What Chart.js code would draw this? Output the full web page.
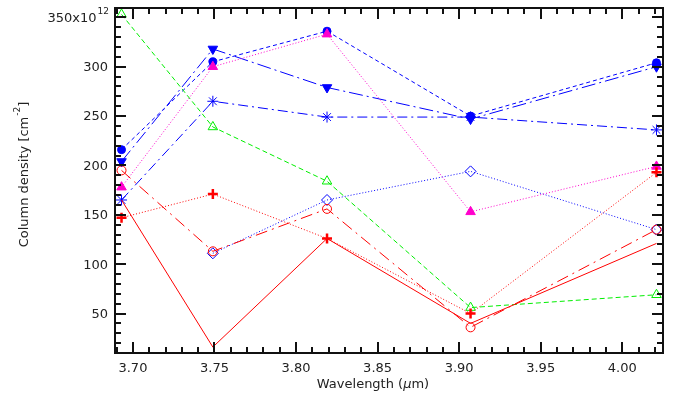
<!DOCTYPE html>
<html>
<head>
<meta charset="utf-8">
<script src="https://cdn.jsdelivr.net/npm/chart.js@4.4.0/dist/chart.umd.min.js"></script>
<style>
html,body{margin:0;padding:0;background:#fff}
#wrap{width:692px;height:401px}
</style>
</head>
<body>
<div id="wrap"><canvas id="myChart" width="692" height="401"></canvas></div>
<script>
// wavelengths (um) and column densities (x10^12 cm^-2)
const wavelengths = [3.693, 3.749, 3.819, 3.907, 4.021];
const blueCircles = [216, 305, 336, 250, 304];
const blueDownTriangles = [204, 318, 279, 247, 300];
const blueStars = [165, 265, 249, 249, 236];
const blueDiamonds = [null, 111, 165, 194, 135];
const magentaTriangles = [178, 300, 333, 153, 199];
const greenTriangles = [353, 239, 184, 56, 69];
const redCircles = [195, 113, 156, 36, 135];
const redPluses = [147, 171, 126, 50, 193];
const redSolid = [165, 16, 126, 40, 121];

const xTicks = [3.70, 3.75, 3.80, 3.85, 3.90, 3.95, 4.00];
const xTickLabels = ['3.70', '3.75', '3.80', '3.85', '3.90', '3.95', '4.00'];
const yTicks = [50, 100, 150, 200, 250, 300, 350];
const yTickLabels = ['50', '100', '150', '200', '250', '300', '350x10'];

const FONT = '"DejaVu Sans", sans-serif';

function pts(vals){
    return wavelengths.map((x, i) => ({x: x, y: vals[i]})).filter(p => p.y !== null);
}

function series(vals, color, style, dash, extra){
    return Object.assign({
        data: pts(vals),
        borderColor: color,
        backgroundColor: color,
        borderWidth: 1,
        borderDash: dash,
        pointStyle: style,
        pointRadius: 4.5,
        pointBorderWidth: 1,
        pointBorderColor: color,
        pointBackgroundColor: color,
        tension: 0
    }, extra || {});
}

// frame with inward ticks on all four sides, plus labels and titles
const frame = {
    id: 'frame',
    afterDraw(chart){
        const c = chart.ctx, a = chart.chartArea;
        const x = chart.scales.x, y = chart.scales.y;
        const L = Math.round(a.left), R = Math.round(a.right);
        const T = Math.round(a.top), B = Math.round(a.bottom);
        c.save();
        c.fillStyle = '#111';
        for (let i = 369; i <= 402; i++){
            const px = Math.round(x.getPixelForValue(i / 100));
            const len = (i % 5 === 0) ? 11 : 6;
            c.fillRect(px - 1, B - len, 2, len);
            c.fillRect(px - 1, T, 2, len);
        }
        for (let v = 10; v <= 360; v += 10){
            const py = Math.round(y.getPixelForValue(v));
            const len = (v % 50 === 0) ? 11 : 6;
            c.fillRect(L, py - 1, len, 2);
            c.fillRect(R - len, py - 1, len, 2);
        }
        c.fillRect(L - 1, T - 1, R - L + 2, 2);
        c.fillRect(L - 1, B - 1, R - L + 2, 2);
        c.fillRect(L - 1, T - 1, 2, B - T + 2);
        c.fillRect(R - 1, T - 1, 2, B - T + 2);

        c.fillStyle = '#222';
        c.font = '13px ' + FONT;
        // x tick labels
        c.textAlign = 'center';
        c.textBaseline = 'top';
        xTicks.forEach((v, i) => {
            c.fillText(xTickLabels[i], x.getPixelForValue(v), B + 9);
        });
        // y tick labels
        c.textAlign = 'right';
        c.textBaseline = 'middle';
        yTicks.forEach((v, i) => {
            const py = y.getPixelForValue(v) + 1;
            if (i === yTicks.length - 1){
                c.font = '9px ' + FONT;
                const w = c.measureText('12').width;
                c.fillText('12', L - 6, py - 7);
                c.font = '13px ' + FONT;
                c.fillText(yTickLabels[i], L - 7 - w, py);
            } else {
                c.fillText(yTickLabels[i], L - 7, py);
            }
        });
        // x title
        const p1 = 'Wavelength (', p3 = 'm)';
        c.font = '13px ' + FONT;
        const w1 = c.measureText(p1).width, w3 = c.measureText(p3).width;
        c.font = 'italic 13px ' + FONT;
        const w2 = c.measureText('\u03bc').width;
        const sx = 373 - (w1 + w2 + w3) / 2;
        c.textAlign = 'left';
        c.font = '13px ' + FONT;
        c.fillText(p1, sx, 385);
        c.font = 'italic 13px ' + FONT;
        c.fillText('\u03bc', sx + w1, 385);
        c.font = '13px ' + FONT;
        c.fillText(p3, sx + w1 + w2, 385);
        // y title
        c.translate(25, 175);
        c.rotate(-Math.PI / 2);
        const t1 = 'Column density [cm', t3 = ']';
        const a1 = c.measureText(t1).width, a3 = c.measureText(t3).width;
        c.font = '9px ' + FONT;
        const a2 = c.measureText('-2').width;
        const sy = -(a1 + a2 + a3) / 2;
        c.font = '13px ' + FONT;
        c.fillText(t1, sy, 0);
        c.fillText(t3, sy + a1 + a2 + 1, 0);
        c.font = '9px ' + FONT;
        c.fillText('-2', sy + a1 + 1, -7);
        c.restore();
    }
};

const ctx = document.getElementById('myChart').getContext('2d');
const myChart = new Chart(ctx, {
    type: 'line',
    data: {
        datasets: [
            series(redSolid, '#ff0000', 'circle', [], {pointRadius: 0}),
            series(redPluses, '#ff0000', 'cross', [1, 2], {pointRadius: 5, pointBorderWidth: 2.5}),
            series(redCircles, '#ff0000', 'circle', [12, 5, 2, 5], {pointBackgroundColor: 'rgba(0,0,0,0)'}),
            series(greenTriangles, '#00ee00', 'triangle', [5, 3], {pointRadius: 5.5, pointBackgroundColor: 'rgba(0,0,0,0)'}),
            series(magentaTriangles, '#ff00cc', 'triangle', [1, 2], {pointRadius: 5.5}),
            series(blueDiamonds, '#0000ff', 'rectRot', [1, 2], {pointRadius: 5.5, pointBackgroundColor: 'rgba(0,0,0,0)'}),
            series(blueStars, '#0000ff', 'star', [10, 4, 2, 4], {pointRadius: 5.5}),
            series(blueDownTriangles, '#0000ff', 'triangle', [14, 4, 2, 4], {pointRadius: 5.5, pointRotation: 180}),
            series(blueCircles, '#0000ff', 'circle', [4, 3], {pointRadius: 4})
        ]
    },
    options: {
        responsive: false,
        animation: false,
        devicePixelRatio: 1,
        layout: {padding: {left: 0, right: 29, top: 4, bottom: 0}},
        plugins: {legend: {display: false}, tooltip: {enabled: false}},
        scales: {
            x: {
                type: 'linear', min: 3.689, max: 4.025,
                ticks: {display: false},
                grid: {display: false},
                border: {display: false},
                afterFit: s => { s.height = 48; }
            },
            y: {
                min: 10, max: 360,
                ticks: {display: false},
                grid: {display: false},
                border: {display: false},
                afterFit: s => { s.width = 115; }
            }
        }
    },
    plugins: [frame]
});
</script>
</body>
</html>
